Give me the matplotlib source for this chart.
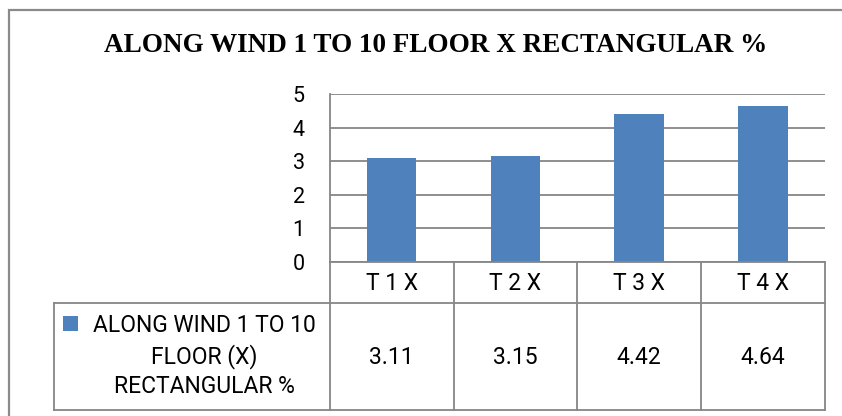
import matplotlib
matplotlib.use("Agg")
import matplotlib.pyplot as plt
from matplotlib.patches import Rectangle
from matplotlib.lines import Line2D
from matplotlib.transforms import blended_transform_factory

# ---- data ----
title = "ALONG WIND 1 TO 10 FLOOR X RECTANGULAR %"
categories = ["T 1 X", "T 2 X", "T 3 X", "T 4 X"]
values = [3.11, 3.15, 4.42, 4.64]
value_labels = ["3.11", "3.15", "4.42", "4.64"]
series_name = "ALONG WIND 1 TO 10\nFLOOR (X)\nRECTANGULAR %"
y_ticks = [0, 1, 2, 3, 4, 5]

W, H = 842, 416
DPI = 100
BAR = "#4F81BD"
GRID = "#868686"
SANS = ["Roboto", "DejaVu Sans"]

fig = plt.figure(figsize=(W / DPI, H / DPI), dpi=DPI)
fig.patch.set_facecolor("white")

def fx(px):
    return px / W

def fy(py):
    return 1 - py / H

# plot area in pixel coords
L, R, T, B = 329.7, 825.0, 94.3, 262.0
ax = fig.add_axes([fx(L), fy(B), fx(R) - fx(L), fy(T) - fy(B)])

x = list(range(len(categories)))
ax.bar(x, values, width=0.4, color=BAR, zorder=3)
ax.set_xlim(-0.5, len(categories) - 0.5)
ax.set_ylim(0, 5)
ax.set_yticks(y_ticks)
ax.set_yticklabels([str(t) for t in y_ticks], fontfamily=SANS, fontsize=15.5)
ax.tick_params(axis="y", length=0, pad=18)
ax.set_xticks([])
ax.grid(axis="y", color=GRID, linewidth=1.3, zorder=0)
for s in ["top", "right", "bottom"]:
    ax.spines[s].set_visible(False)
ax.spines["left"].set_color(GRID)
ax.spines["left"].set_linewidth(1.3)

# ---- outer border ----
fig.patches.append(Rectangle((fx(9), fy(430)), fx(850) - fx(9), fy(10) - fy(430),
                             transform=fig.transFigure, fill=False,
                             edgecolor="#8a8a8a", linewidth=1.6))

# ---- title ----
fig.text(fx(436), fy(46), title, ha="center", va="center",
         fontfamily="Liberation Serif", fontweight="bold", fontsize=19.5)

# ---- data table ----
row1_top, row1_bot, row2_bot = 262.0, 302.7, 410.0
leg_left = 54.3

def hline(y, x0, x1):
    fig.lines.append(Line2D([fx(x0), fx(x1)], [fy(y), fy(y)], transform=fig.transFigure,
                            color=GRID, linewidth=1.3))

def vline(xp, y0, y1):
    fig.lines.append(Line2D([fx(xp), fx(xp)], [fy(y0), fy(y1)], transform=fig.transFigure,
                            color=GRID, linewidth=1.3))

hline(row1_top, L, R)
hline(row1_bot, leg_left, R)
hline(row2_bot, leg_left, R)
vline(leg_left, row1_bot, row2_bot)
cw = (R - L) / len(categories)
for i in range(len(categories) + 1):
    vline(L + i * cw, row1_top, row2_bot)

tr = blended_transform_factory(ax.transData, fig.transFigure)
for i, (c, v) in enumerate(zip(categories, value_labels)):
    fig.text(i, fy(283), c, transform=tr, ha="center", va="center",
             fontfamily=SANS, fontsize=16.5)
    fig.text(i, fy(357), v, transform=tr, ha="center", va="center",
             fontfamily=SANS, fontsize=16.5)

# legend key + series name
fig.patches.append(Rectangle((fx(63), fy(331)), fx(78) - fx(63), fy(316) - fy(331),
                             transform=fig.transFigure, facecolor=BAR, edgecolor="none"))
fig.text(fx(204), fy(356), series_name, ha="center", va="center", multialignment="center",
         fontfamily=SANS, fontsize=16.5, linespacing=1.33)

fig.savefig("out.png", dpi=DPI)
